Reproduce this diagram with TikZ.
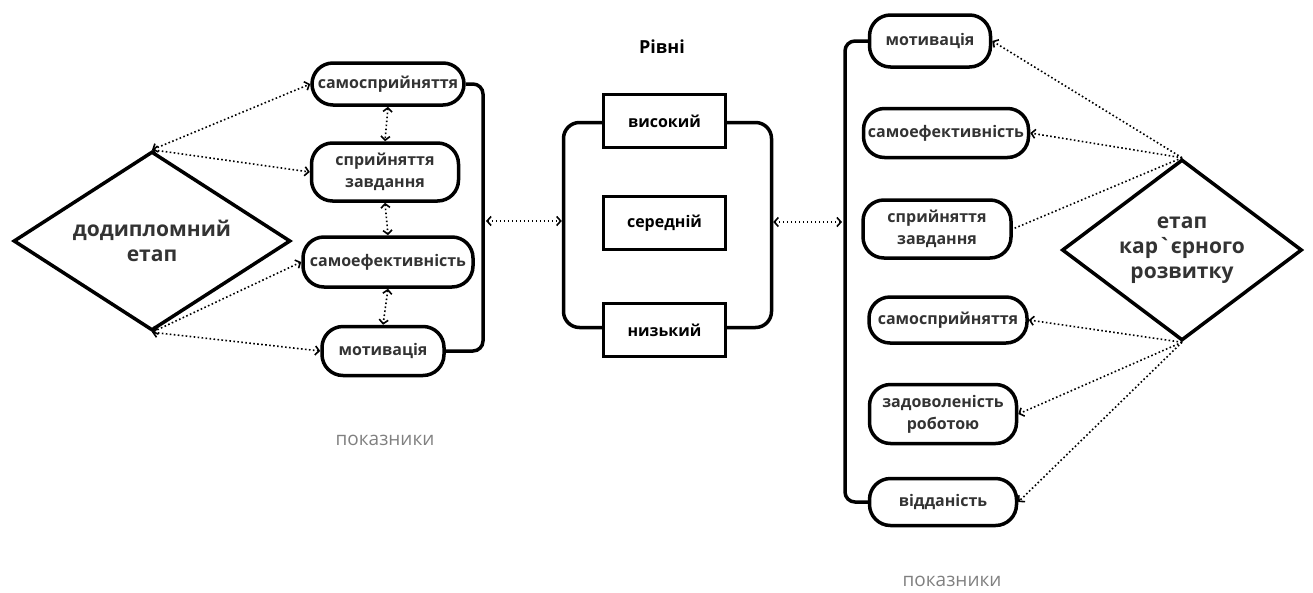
\documentclass[tikz,border=0pt]{standalone}
\usepackage{fontspec}
\setmainfont{Open Sans}[Ligatures=TeXOff]
\usepackage{tikz}
\usetikzlibrary{shapes.geometric, arrows.meta}
\definecolor{txtGrey}{HTML}{333333}
\definecolor{noteGrey}{HTML}{808080}

\begin{document}
\begin{tikzpicture}[x=1pt, y=-1pt,
        pill/.style={draw, line width=3.5pt, rounded corners=21pt, fill=white, align=center, text=txtGrey, inner sep=0pt, font=\bfseries\fontsize{16}{22}\selectfont},
        level/.style={draw, line width=3.5pt, fill=white, minimum width=122pt, minimum height=53pt, inner sep=0pt, font=\bfseries\fontsize{16}{22}\selectfont},
        stage/.style={diamond, aspect=1.4, draw, line width=3.5pt, align=center, text=txtGrey, inner sep=0pt, font=\bfseries\fontsize{21}{25}\selectfont},
        bar/.style={line width=3.5pt, rounded corners=10pt},
        dots/.style={line width=1.6pt, dash pattern=on 1.6pt off 2.4pt},
        note/.style={text=noteGrey, font=\fontsize{19}{22}\selectfont},
        >={Straight Barb[length=4pt, width=9pt]}]
    \useasboundingbox (0,0) rectangle (1313,592);

    \node[draw, line width=3.5pt, rounded corners=16pt, minimum width=208pt, minimum height=205pt, inner sep=0pt] (frame) at (667.5,225) {};
    \node[level] (hi) at (664.5,121) {високий};
    \node[level] (mid) at (664.5,223) {середній};
    \node[level] (lo) at (664.5,330) {низький};
    \node[font=\bfseries\fontsize{18}{20}\selectfont] (levels) at (662,47) {Рівні};

    \node[stage, minimum width=277pt, minimum height=179pt] (dl) at (152,241) {додипломний\\етап};
    \node[pill, minimum width=152pt, minimum height=42pt] (l1) at (388,84) {самосприйняття};
    \node[pill, minimum width=147pt, minimum height=58pt] (l2) at (385,172) {сприйняття\\завдання};
    \node[pill, minimum width=170pt, minimum height=50pt] (l3) at (388,262) {самоефективність};
    \node[pill, minimum width=122pt, minimum height=49pt] (l4) at (383,351) {мотивація};
    \node[note] (noteL) at (385,440) {показники};

    \node[stage, minimum width=240pt, minimum height=181pt] (dr) at (1182,250) {етап\\кар`єрного\\розвитку};
    \node[pill, minimum width=121pt, minimum height=52pt] (r1) at (930,41) {мотивація};
    \node[pill, minimum width=165pt, minimum height=49pt] (r2) at (946,133) {самоефективність};
    \node[pill, minimum width=148pt, minimum height=58pt] (r3) at (937,229) {сприйняття\\завдання};
    \node[pill, minimum width=158pt, minimum height=46pt] (r4) at (948,320) {самосприйняття};
    \node[pill, minimum width=147pt, minimum height=59pt] (r5) at (943,414) {задоволеність\\роботою};
    \node[pill, minimum width=147pt, minimum height=47pt] (r6) at (943,502) {відданість};
    \node[note] (noteR) at (952,581) {показники};

    \coordinate (lbrk) at (483,221);
    \coordinate (rbrk) at (845,222);
    \draw[bar] (l1.east) -| (lbrk) |- (l4.east);
    \draw[bar] (r1.west) -| (rbrk) |- (r6.west);

    \draw[dots, <->] (dl.north) -- (l1.west);
    \draw[dots, <->] (dl.north) -- (l2.west);
    \draw[dots, <->] (dl.south) -- (l3.west);
    \draw[dots, <->] (dl.south) -- (l4.west);
    \draw[dots, <->] (l1.south) -- (l2.north);
    \draw[dots, <->] (l2.south) -- (l3.north);
    \draw[dots, <->] (l3.south) -- (l4.north);
    \draw[dots, <->, shorten <=3pt] (lbrk) -- (lbrk -| frame.west);
    \draw[dots, <->, shorten <=3pt] (rbrk) -- (rbrk -| frame.east);

    \draw[dots, ->] (dr.north) -- (r1.east);
    \draw[dots, ->] (dr.north) -- (r2.east);
    \draw[dots] (dr.north) -- (r3.east);
    \draw[dots, ->] (dr.south) -- (r4.east);
    \draw[dots, ->] (dr.south) -- (r5.east);
    \draw[dots, ->] (dr.south) -- (r6.east);
\end{tikzpicture}
\end{document}
